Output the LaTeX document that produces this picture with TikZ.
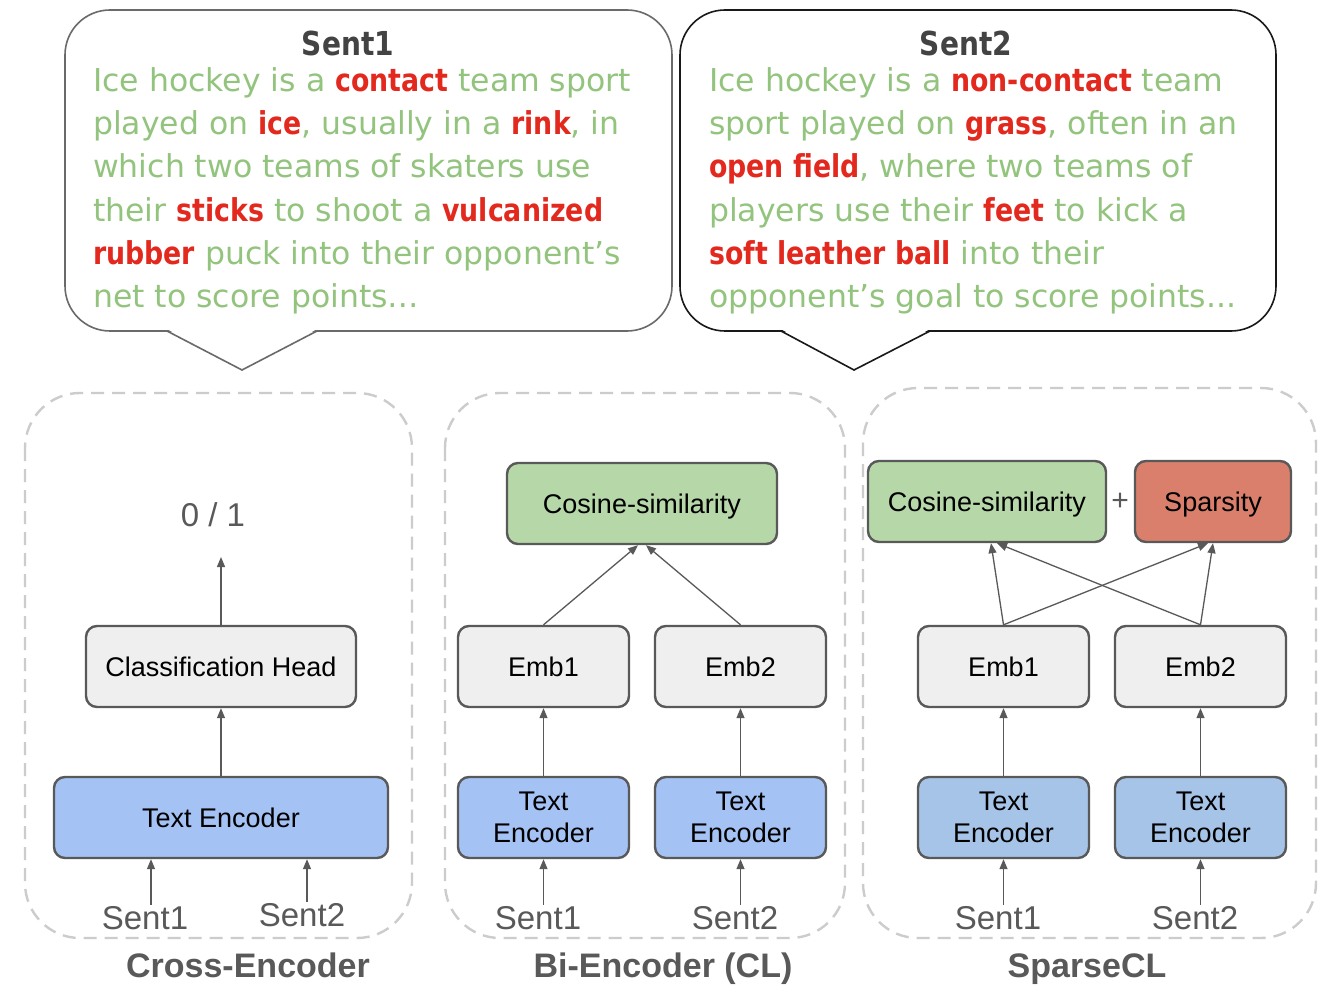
\documentclass[tikz,border=0pt]{standalone}
\usepackage{fontspec}
\setmainfont{Liberation Sans}
\newfontfamily\comicf{DejaVu Sans}[BoldFeatures={FakeStretch=0.85}]
\usetikzlibrary{arrows.meta,calc}
\definecolor{boxline}{HTML}{595959}
\definecolor{gfill}{HTML}{EFEFEF}
\definecolor{bfill}{HTML}{A4C2F4}
\definecolor{bfillb}{HTML}{A6C4E8}
\definecolor{cfill}{HTML}{B6D7A8}
\definecolor{rfill}{HTML}{DA7F6C}
\definecolor{dashc}{HTML}{CCCCCC}
\definecolor{tgray}{HTML}{595959}
\definecolor{sgreen}{HTML}{93C47D}
\definecolor{sred}{HTML}{E3281E}
\definecolor{sdark}{HTML}{434343}
\newcommand\redw[1]{{\bfseries\color{sred}#1}}
\begin{document}
\begin{tikzpicture}[x=1pt,y=-1pt,
  box/.style={draw=boxline, line width=2.4pt, rounded corners=11pt, minimum height=81pt, inner sep=0pt, text depth=0pt, align=center, font=\fontsize{27}{32}\selectfont},
  gbox/.style={box, fill=gfill},
  bbox/.style={box, fill=bfill},
  bbboxb/.style={box, fill=bfillb},
  cbox/.style={box, fill=cfill},
  rbox/.style={box, fill=rfill},
  arr/.style={draw=boxline, line width=1.3pt, -{Triangle[length=10pt,width=8pt]}},
  panel/.style={draw=dashc, line width=2.4pt, dash pattern=on 13pt off 8pt, rounded corners=55pt},
  bubble/.style={line width=1.6pt, fill=white, rounded corners=45pt},
  bline/.style={anchor=base west, inner sep=0pt, text=sgreen, font=\comicf\fontsize{31.5}{36}\selectfont},
  btitle/.style={anchor=base, inner sep=0pt, text=sdark, font=\comicf\bfseries\fontsize{33}{38}\selectfont},
  slabel/.style={anchor=base, inner sep=1pt, text=tgray, font=\fontsize{33}{38}\selectfont},
  ptitle/.style={anchor=base, inner sep=0pt, text=tgray, font=\bfseries\fontsize{34}{40}\selectfont}
]
\useasboundingbox[fill=white] (0,0) rectangle (1326,992);

% ---------- speech bubbles ----------
\draw[bubble, draw=boxline!90] (65,10) rectangle (672,331);
\fill[white] (165,328) -- (319,328) -- (242,370) -- cycle;
\draw[line width=1.6pt, draw=boxline!90] (167,331) -- (242,370) -- (317,331);

\draw[bubble, draw=black!90] (680,10) rectangle (1276,331);
\fill[white] (779,328) -- (932,328) -- (854,370) -- cycle;
\draw[line width=1.6pt, draw=black!90] (781,331) -- (854,370) -- (930,331);

\node[btitle] (t1) at (348,56) {Sent1};
\node[bline] (a1) at (93,92) {Ice hockey is a \redw{contact} team sport};
\node[bline] (a2) at (93,135) {played on \redw{ice}, usually in a \redw{rink}, in};
\node[bline] (a3) at (93,178) {which two teams of skaters use};
\node[bline] (a4) at (93,222) {their \redw{sticks} to shoot a \redw{vulcanized}};
\node[bline] (a5) at (93,265) {\redw{rubber} puck into their opponent’s};
\node[bline] (a6) at (93,308) {net to score points…};

\node[btitle] (t2) at (966,56) {Sent2};
\node[bline] (b1) at (709,92) {Ice hockey is a \redw{non-contact} team};
\node[bline] (b2) at (709,135) {sport played on \redw{grass}, often in an};
\node[bline] (b3) at (709,178) {\redw{open field}, where two teams of};
\node[bline] (b4) at (709,222) {players use their \redw{feet} to kick a};
\node[bline] (b5) at (709,265) {\redw{soft leather ball} into their};
\node[bline] (b6) at (709,308) {opponent’s goal to score points...};

% ---------- panels ----------
\draw[panel] (25,393) rectangle (412,938);
\draw[panel] (445,393) rectangle (845,938);
\draw[panel] (863,388) rectangle (1316,938);

% ---------- Cross-Encoder ----------
\node[slabel] (o1) at (213,526) {0 / 1};
\node[gbox, minimum width=270pt] (ch) at (221,666.5) {Classification Head};
\node[bbox, minimum width=334pt] (te1) at (221,817.5) {Text Encoder};
\node[slabel] (s11) at (145,929) {Sent1};
\node[slabel] (s12) at (302,926) {Sent2};
\coordinate (outtip) at (221,557);
\coordinate (p11) at ([xshift=-70pt]te1.south);
\coordinate (p12) at ([xshift=86pt]te1.south);
\draw[arr] (ch.north) -- (outtip);
\draw[arr] (te1.north) -- (ch.south);
\draw[arr] (p11 |- s11.north) -- (p11);
\draw[arr] (p12 |- s12.north) -- (p12);
\node[ptitle] (n1) at (248,977) {Cross-Encoder};

% ---------- Bi-Encoder ----------
\node[cbox, minimum width=270pt] (cos2) at (642,503.5) {Cosine-similarity};
\node[gbox, minimum width=171pt] (e21) at (543.5,666.5) {Emb1};
\node[gbox, minimum width=171pt] (e22) at (740.5,666.5) {Emb2};
\node[bbox, minimum width=171pt] (t21) at (543.5,817.5) {Text\\Encoder};
\node[bbox, minimum width=171pt] (t22) at (740.5,817.5) {Text\\Encoder};
\node[slabel] (s21) at (538,929) {Sent1};
\node[slabel] (s22) at (735,929) {Sent2};
\draw[arr] (e21.north) -- ([xshift=-4pt]cos2.south);
\draw[arr] (e22.north) -- ([xshift=4pt]cos2.south);
\draw[arr] (t21.north) -- (e21.south);
\draw[arr] (t22.north) -- (e22.south);
\draw[arr] (t21.south |- s21.north) -- (t21.south);
\draw[arr] (t22.south |- s22.north) -- (t22.south);
\node[ptitle] (n2) at (663,977) {Bi-Encoder (CL)};

% ---------- SparseCL ----------
\node[cbox, minimum width=238pt] (cos3) at (987,501.5) {Cosine-similarity};
\node[inner sep=0pt, text=tgray, font=\fontsize{30}{34}\selectfont] (plus) at (1120,502) {+};
\node[rbox, minimum width=156pt] (sp) at (1213,501.5) {Sparsity};
\node[gbox, minimum width=171pt] (e31) at (1003.5,666.5) {Emb1};
\node[gbox, minimum width=171pt] (e32) at (1200.5,666.5) {Emb2};
\node[bbboxb, minimum width=171pt] (t31) at (1003.5,817.5) {Text\\Encoder};
\node[bbboxb, minimum width=171pt] (t32) at (1200.5,817.5) {Text\\Encoder};
\node[slabel] (s31) at (998,929) {Sent1};
\node[slabel] (s32) at (1195,929) {Sent2};
\draw[arr] (e31.north) -- ([xshift=4pt]cos3.south);
\draw[arr] (e31.north) -- ([xshift=-5pt]sp.south);
\draw[arr] (e32.north) -- ([xshift=10pt]cos3.south);
\draw[arr] (e32.north) -- (sp.south);
\draw[arr] (t31.north) -- (e31.south);
\draw[arr] (t32.north) -- (e32.south);
\draw[arr] (t31.south |- s31.north) -- (t31.south);
\draw[arr] (t32.south |- s32.north) -- (t32.south);
\node[ptitle] (n3) at (1087,977) {SparseCL};
\end{tikzpicture}
\end{document}
